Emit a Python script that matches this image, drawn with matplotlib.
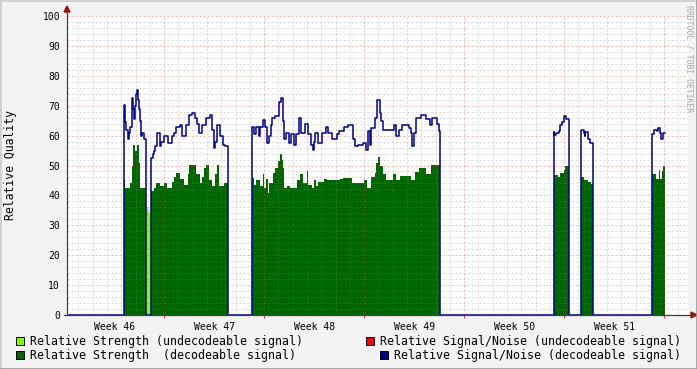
import numpy as np
import matplotlib
matplotlib.use("Agg")
import matplotlib.pyplot as plt
from matplotlib.patches import Rectangle, Polygon
from matplotlib.lines import Line2D

plt.rcParams['font.family'] = ['DejaVu Sans Mono']

# time in days since start of week 46
weeks = ["Week 46", "Week 47", "Week 48", "Week 49", "Week 50", "Week 51"]

# relative signal/noise (decodeable signal), step breakpoints
sn_t = [0.2,
        4.18, 4.25, 4.34, 4.46, 4.55, 4.64, 4.76, 4.83, 4.88, 4.95,
        5.06, 5.11, 5.18, 5.27, 5.34, 5.39, 5.48, 5.58, 5.76, 6.07,
        6.21, 6.28, 6.39, 6.51, 6.70, 6.81, 7.02, 7.26, 7.56, 7.68,
        7.86, 8.14, 8.26, 8.56, 8.73, 8.96, 9.19, 9.31, 9.43, 9.66,
        9.96, 10.20, 10.36, 10.48, 10.59, 10.71, 10.94, 11.13, 11.29, 11.48,
        13.16, 13.28, 13.46, 13.67, 13.74, 13.93, 14.07, 14.21, 14.37, 14.49,
        14.56, 14.79, 15.07, 15.21, 15.33, 15.42, 15.56, 15.73, 15.91, 16.08,
        16.26, 16.47, 16.61, 16.89, 17.06, 17.29, 17.41, 17.48, 17.59, 17.76,
        18.06, 18.36, 18.46, 18.76, 19.11, 19.23, 19.58,
        19.88, 20.23, 20.35,
        20.58, 20.93, 21.16, 21.28, 21.40, 21.51, 21.79, 21.93, 22.10, 22.21,
        22.33, 23.08, 23.26, 23.45, 23.68, 24.15, 24.27, 24.36, 24.48, 24.62,
        25.01, 25.32, 25.64, 25.78, 26.11, 26.23, 26.30,
        34.28, 34.32, 34.46, 34.65, 34.74, 34.88, 35.02, 35.16, 35.35, 35.37,
        36.19, 36.38, 36.45, 36.49, 36.70, 36.84, 37.03,
        41.18, 41.30, 41.53, 41.60, 41.72, 41.77, 41.93, 42.07]
sn_v = [0,
        70.2, 64.6, 62, 59, 61, 63, 72.6, 69, 65.5, 70,
        74, 75.2, 72, 69, 65, 60, 61, 59, 0, 52.5,
        54, 55, 56.5, 61, 56.5, 58, 60, 57.6, 60, 61,
        63, 63.5, 60, 63.5, 66.9, 67.5, 66, 64, 61, 63.5,
        66, 67, 62, 56, 58, 63.5, 60, 57, 56.4, 0,
        63, 60.5, 63, 60, 63, 65.2, 63, 57.6, 60, 63.5,
        65.9, 66.4, 71.4, 72.7, 65, 59, 61, 57.6, 60.5, 57,
        60.5, 66, 61, 64, 60.5, 57, 55.2, 58, 61, 57.6,
        61, 62.8, 61, 59, 60.5, 61.5, 62.8,
        63.5, 59, 56.4,
        57, 57.6, 55.3, 61.5, 57, 62.4, 65.9, 71.9, 67.5, 65,
        62, 63.5, 60, 62, 63.5, 62.5, 61, 56.4, 61, 65.9,
        67, 65.6, 63.5, 66, 64, 61.5, 0,
        61.3, 60.2, 60.8, 61.5, 63.5, 64.7, 66.6, 65.5, 61, 0,
        62, 60.8, 59.8, 61.2, 58.8, 57.6, 0,
        60.7, 62, 61.5, 62.6, 61, 58.8, 60.8, 60.8]

# relative strength (decodeable signal)
st_t = [4.18, 4.22, 4.29, 4.64, 4.74, 4.83, 4.97, 5.11, 5.25, 5.34,
        5.76, 6.07, 6.32, 6.46, 6.74, 6.98, 7.21, 7.56, 7.68, 7.86,
        8.14, 8.38, 8.66, 8.73, 9.22, 9.50, 9.68, 9.78, 9.92, 10.13,
        10.34, 10.59, 10.71, 10.83, 11.18, 11.48,
        13.16, 13.32, 13.44, 13.74, 13.91, 14.02, 14.16, 14.26, 14.37, 14.63,
        14.79, 14.96, 15.14, 15.26, 15.33, 15.42, 15.61, 15.84, 16.31, 16.50,
        16.73, 17.01, 17.10, 17.36, 17.48, 17.64, 17.78, 18.22, 18.41, 19.34,
        19.53, 20.18, 20.98, 21.23, 21.51, 21.75, 21.86, 21.98, 22.10, 22.33,
        22.52, 23.03, 23.26, 23.54, 24.31, 24.55, 24.85, 25.32, 25.71, 26.30,
        34.28, 34.56, 34.74, 34.98, 35.09, 35.37,
        36.19, 36.42, 36.70, 36.91, 37.03,
        41.18, 41.46, 41.63, 41.72, 41.84, 41.95, 42.07]
st_v = [47.9, 45, 42.5, 44, 50, 56.9, 55, 56.9, 51, 42.5,
        0, 41.5, 42.5, 44, 43, 44, 42.5, 44.5, 46, 47.4,
        45.5, 43.5, 47, 50.2, 47, 44, 46, 49, 50.2, 45,
        43, 47, 50.2, 43, 44, 0,
        45.7, 43.5, 45, 43, 47.1, 42.5, 45.5, 40.7, 44, 47.5,
        49, 51.5, 53.7, 52, 49, 42.5, 43, 42.5, 45, 47,
        44, 48, 43.5, 42.5, 45, 43, 44.5, 45.5, 45, 45.5,
        45.7, 44, 45, 42.5, 46, 47.6, 51, 53, 50, 47,
        45, 47.3, 45, 46.5, 45, 47.8, 49, 47.3, 50.2, 0,
        46.8, 46, 47.5, 48.5, 49.8, 0,
        46, 45, 44.5, 43.8, 0,
        47, 45.5, 48.4, 45.5, 48, 49.9, 0]

# relative strength (undecodeable signal)
und_t = [5.76, 5.88, 5.97, 6.07]
und_v = [36.2, 35, 34, 0]

W, H = 697, 369
fig = plt.figure(figsize=(W / 100, H / 100), dpi=100, facecolor="#f3f3f3")
ax = fig.add_axes([67 / W, 1 - 315 / H, 621 / W, 299 / H])
ax.set_facecolor("white")
x0, x1 = 0.2, 43.67
ax.set_xlim(x0, x1)
ax.set_ylim(0, 100)

ax.fill_between(und_t, und_v, step='post', color='#80ff00', lw=0, zorder=1)
ax.fill_between(st_t, st_v, step='post', color='#006600', lw=0, zorder=1.5)
ax.step(sn_t, sn_v, where='post', color='#00008b', lw=1.1, zorder=4)

# grid, drawn over the areas like rrdtool
minor_c = (0.5, 0.5, 0.5, 0.3)
major_c = (0.85, 0.2, 0.2, 0.35)
grid_kw = dict(lw=0.72, ls=(0, (2, 2)), zorder=3)
for d in range(1, 44):
    ax.axvline(d, color=minor_c if d % 7 else major_c, **grid_kw)
for v in range(2, 101, 2):
    ax.axhline(v, color=major_c if v % 10 == 0 else minor_c, **grid_kw)

ax.set_xticks([7 * i + 3.5 for i in range(len(weeks))], weeks)
ax.set_xticks([7 * i for i in range(1, 7)], minor=True)
ax.set_yticks(range(0, 101, 10))
ax.tick_params(which='major', length=0, labelsize=7, pad=5)
ax.tick_params(axis='x', which='minor', length=2.5, color='#d04040', width=0.8)
ax.tick_params(axis='y', which='minor', length=0)
for s in ['top', 'right', 'left', 'bottom']:
    ax.spines[s].set_visible(False)

ax.set_ylabel("Relative Quality", fontsize=8.3)
ax.yaxis.label.set_va('center')
ax.yaxis.set_label_coords((11 - 67) / 621, 0.5)


def fx(px):
    return px / W


def fy(py):
    return 1 - py / H


# axes with arrows
axis_c = '#404040'
fig.add_artist(Line2D([fx(67), fx(67)], [fy(315), fy(10)], color=axis_c, lw=0.9))
fig.add_artist(Line2D([fx(64), fx(693)], [fy(315), fy(315)], color=axis_c, lw=0.9))
fig.add_artist(Polygon([[fx(67), fy(6)], [fx(64), fy(12)], [fx(70), fy(12)]],
                       closed=True, color='#a01010', transform=fig.transFigure))
fig.add_artist(Polygon([[fx(697), fy(315)], [fx(691), fy(312)], [fx(691), fy(318)]],
                       closed=True, color='#a01010', transform=fig.transFigure))

# frame
fig.add_artist(Line2D([0, 1], [fy(0.5), fy(0.5)], color='#cbcbcb', lw=1.2))
fig.add_artist(Line2D([fx(0.5), fx(0.5)], [0, 1], color='#cbcbcb', lw=1.2))
fig.add_artist(Line2D([0, 1], [fy(368.5), fy(368.5)], color='#999999', lw=1.2))
fig.add_artist(Line2D([fx(696.5), fx(696.5)], [0, 1], color='#999999', lw=1.2))

fig.text(fx(689), fy(5), "RRDTOOL / TOBI OETIKER", rotation=270, ha='center',
         va='top', fontsize=5.9, color='#aaaaaa')

# legend
legend = [
    (16, 341, '#80ff00', "Relative Strength (undecodeable signal)"),
    (366, 341, '#ff0000', "Relative Signal/Noise (undecodeable signal)"),
    (16, 355, '#006600', "Relative Strength  (decodeable signal)"),
    (380, 355, '#00008b', "Relative Signal/Noise (decodeable signal)"),
]
for bx, by, col, label in legend:
    fig.add_artist(Rectangle((fx(bx), fy(by + 4)), 8 / W, 8 / H, facecolor=col,
                             edgecolor='black', lw=0.7, transform=fig.transFigure))
    fig.text(fx(bx + 14), fy(by), label, ha='left', va='center', fontsize=8.4)

fig.savefig("out.png", dpi=100, facecolor=fig.get_facecolor())
